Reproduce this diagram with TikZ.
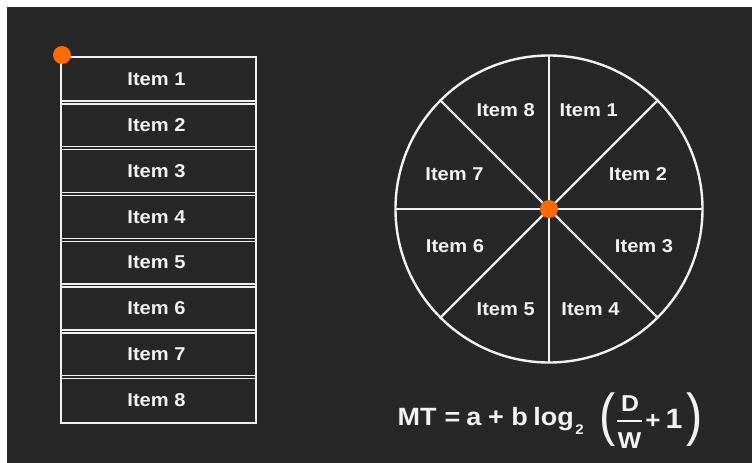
\documentclass[tikz,border=0pt]{standalone}
\usepackage{fontspec}
\usetikzlibrary{calc}
\setmainfont{Liberation Sans}[FakeStretch=1.08]
\definecolor{bgdark}{HTML}{272727}
\definecolor{dotor}{HTML}{FF6A00}
\definecolor{ink}{HTML}{F2F2F2}
\begin{document}
\begin{tikzpicture}[x=1pt,y=-1pt,
  frame/.style={draw=ink,line width=2pt},
  sep/.style={draw=ink,line width=1.4pt},
  wheel/.style={draw=ink,line width=2.4pt},
  lab/.style={text=ink,inner sep=0pt,font=\bfseries\fontsize{18.6}{20}\selectfont},
  eq/.style={text=ink,inner sep=0pt,anchor=base,font=\bfseries\fontsize{25}{26}\selectfont},
  eqbig/.style={text=ink,inner sep=0pt,anchor=base,font=\bfseries\fontsize{28}{30}\selectfont},
  eqsub/.style={text=ink,inner sep=0pt,anchor=base,font=\bfseries\fontsize{14}{15}\selectfont},
  paren/.style={text=ink,inner sep=0pt,anchor=center,font=\fontsize{45}{45}\selectfont},
  hub/.style={circle,fill=dotor,draw=none,minimum size=18pt,inner sep=0pt}]
\useasboundingbox (0,0) rectangle (753,463);
\fill[white] (0,0) rectangle (753,463);
\fill[bgdark] (7,7) rectangle (752,463);
% table
\draw[frame] (61,56.5) rectangle (256,423);
\foreach \k in {1,...,8}{
  \pgfmathsetmacro{\yt}{56.5+45.81*(\k-1)}
  \pgfmathsetmacro{\yb}{\yt+45.81}
  \pgfmathsetmacro{\yc}{(\yt+\yb)/2}
  \node[lab] (row\k) at (156.5,\yc) {Item \k};
}
\foreach \k in {1,...,7}{
  \pgfmathsetmacro{\ys}{56.5+45.81*\k}
  \draw[sep] (61,\ys-1.5) -- (256,\ys-1.5);
  \draw[sep] (61,\ys+1.5) -- (256,\ys+1.5);
}
\node[hub] (tabdot) at (62,55) {};
% wheel
\coordinate (c) at (549,209);
\draw[wheel] (c) circle (153.5);
\foreach \a in {0,45,90,135}{
  \draw[wheel] ($(c)+(\a:153.5)$) -- ($(c)+(\a+180:153.5)$);
}
\node[lab] (w8) at (505.7,110) {Item 8};
\node[lab] (w1) at (588.7,110) {Item 1};
\node[lab] (w7) at (454.5,174) {Item 7};
\node[lab] (w2) at (638,174) {Item 2};
\node[lab] (w6) at (455,246.5) {Item 6};
\node[lab] (w3) at (644,246.5) {Item 3};
\node[lab] (w5) at (505.7,309.5) {Item 5};
\node[lab] (w4) at (590.5,309.5) {Item 4};
\node[hub] (cdot) at (c) {};
% formula
\node[eq] (mt) at (417,425.7) {MT};
\node[eq] (eqs) at (452.5,425.7) {=};
\node[eq] (ea) at (474,425.7) {a};
\node[eq] (ep) at (496,425.7) {+};
\node[eq] (eb) at (519.5,425.7) {b};
\node[eq] (elog) at (553.5,425.7) {log};
\node[eqsub] (e2) at (579.5,434.5) {2};
\node[paren,yscale=1.28] (lp) at (607.5,420) {(};
\node[eq,font=\bfseries\fontsize{23}{24}\selectfont] (ed) at (630,411.7) {D};
\draw[ink,line width=2pt] (617,421) -- (641.7,421);
\node[eq,font=\bfseries\fontsize{23}{24}\selectfont] (ew) at (629.5,448.3) {W};
\node[eq,font=\bfseries\fontsize{24}{24}\selectfont] (ep2) at (653,428.5) {+};
\node[eqbig] (e1) at (674,428.5) {1};
\node[paren,yscale=1.28] (rp) at (695,420) {)};
\end{tikzpicture}
\end{document}
